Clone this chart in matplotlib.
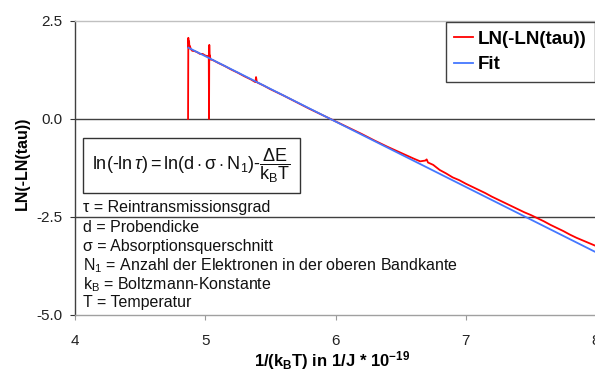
import matplotlib
matplotlib.use("Agg")
import matplotlib.pyplot as plt
from matplotlib.patches import Rectangle

plt.rcParams['font.family'] = ['Liberation Sans', 'DejaVu Sans']
plt.rcParams['mathtext.fontset'] = 'custom'
plt.rcParams['mathtext.rm'] = 'Liberation Sans'
plt.rcParams['mathtext.it'] = 'Liberation Sans:italic'
plt.rcParams['mathtext.bf'] = 'Liberation Sans:bold'

# ---- data ----
red_x = [4.868, 4.870, 4.873, 4.876, 4.879, 4.882, 4.89, 4.90, 4.92, 4.94, 4.96, 4.98, 5.00, 5.02,
         5.027, 5.029, 5.031, 5.033, 5.036, 5.04, 5.06, 5.10, 5.15, 5.20, 5.25, 5.30, 5.35,
         5.385, 5.39, 5.395, 5.40, 5.45, 5.50, 5.60, 5.70, 5.80, 5.90, 6.00, 6.10, 6.20, 6.30,
         6.40, 6.50, 6.60, 6.65, 6.69, 6.70, 6.71, 6.75, 6.80, 6.85, 6.90, 6.95, 7.00, 7.05,
         7.10, 7.15, 7.20, 7.25, 7.30, 7.35, 7.40, 7.45, 7.50, 7.55, 7.60, 7.65, 7.70, 7.75,
         7.80, 7.85, 7.90, 7.95, 8.00]
red_y = [0.00, 2.07, 1.82, 1.98, 1.80, 1.86, 1.78, 1.74, 1.73, 1.70, 1.66, 1.66, 1.62, 1.60,
         1.62, 0.00, 1.89, 1.55, 1.62, 1.52, 1.50, 1.43, 1.35, 1.26, 1.18, 1.09, 1.01,
         0.94, 1.07, 0.96, 0.93, 0.85, 0.76, 0.60, 0.43, 0.26, 0.10, -0.06, -0.22, -0.38, -0.55,
         -0.71, -0.86, -1.01, -1.08, -1.06, -1.03, -1.11, -1.17, -1.30, -1.39, -1.49, -1.56, -1.65, -1.73,
         -1.81, -1.89, -1.98, -2.06, -2.14, -2.22, -2.30, -2.38, -2.45, -2.53, -2.61, -2.70, -2.78, -2.86,
         -2.95, -3.03, -3.10, -3.17, -3.24]
fit_x = [4.87, 8.00]
fit_y = [1.82, -3.40]

legend_labels = ['LN(-LN(tau))', 'Fit']
xticks = [4, 5, 6, 7, 8]
yticks = [-5.0, -2.5, 0.0, 2.5]
notes = ['\u03c4 = Reintransmissionsgrad',
         'd = Probendicke',
         '\u03c3 = Absorptionsquerschnitt',
         r'N$_\mathrm{1}$ = Anzahl der Elektronen in der oberen Bandkante',
         r'k$_\mathrm{B}$ = Boltzmann-Konstante',
         'T = Temperatur']

W, H = 595, 369
fig = plt.figure(figsize=(W / 100, H / 100), dpi=100)
ax = fig.add_axes([75 / W, (H - 315) / H, (596 - 75) / W, (315 - 21) / H])

ax.plot(red_x, red_y, color='#ff0000', lw=1.3, label=legend_labels[0], zorder=3)
ax.plot(fit_x, fit_y, color='#4477ff', lw=1.3, label=legend_labels[1], zorder=4)

ax.set_xlim(4, 8)
ax.set_ylim(-5, 2.5)
ax.set_xticks(xticks)
ax.set_yticks(yticks)
ax.set_yticklabels([f'{v:.1f}' for v in yticks])
ax.tick_params(axis='y', direction='out', length=3.6, pad=5.5, labelsize=11, colors='#333333', labelcolor='#222222')
ax.tick_params(axis='x', direction='out', length=3.6, pad=10, labelsize=11, colors='#999999', labelcolor='#222222')

for y in [0.0, -2.5]:
    ax.axhline(y, color='#404040', lw=1.0, zorder=2)
ax.spines['top'].set_color('#c0c0c0')
ax.spines['bottom'].set_color('#a0a0a0')
ax.spines['left'].set_color('#404040')
ax.spines['right'].set_visible(False)
for s in ['top', 'bottom', 'left']:
    ax.spines[s].set_linewidth(1.0)

ax.set_ylabel('LN(-LN(tau))', fontsize=11.5, fontweight='bold')
ax.yaxis.set_label_coords((30 - 75) / 521, (315 - 163.5) / 294)
ax.set_xlabel(r'1/(k$_\mathbf{B}$T) in 1/J * 10$^\mathbf{-19}$', fontsize=12, fontweight='bold')
ax.xaxis.set_label_coords((332 - 75) / 521, (315 - 349) / 294)

leg = ax.legend(loc='upper left', bbox_to_anchor=(446 / W, 1 - 22 / H), bbox_transform=fig.transFigure,
                prop={'weight': 'bold', 'size': 13.5}, handlelength=1.0, handletextpad=0.25,
                borderpad=0.45, borderaxespad=0, labelspacing=0.45, fancybox=False, framealpha=1)
leg.get_frame().set_edgecolor('#404040')
leg.get_frame().set_linewidth(1.0)

# formula box
fig.patches.append(Rectangle((83 / W, 1 - 193 / H), (300 - 83) / W, (193 - 138) / H,
                             transform=fig.transFigure, facecolor='white', edgecolor='#333333', lw=1.0))
fig.text(191.5 / W, 1 - 165.5 / H,
         r'$\mathrm{ln(\text{-}ln}\,\tau\mathrm{) = ln(d\cdot\sigma\cdot N_1) \text{-} }\dfrac{\mathrm{\Delta E}}{\mathrm{k_B T}}$',
         fontsize=13, ha='center', va='center', color='#111111')

ys = [208, 228, 247, 266, 285, 303]
for t, yy in zip(notes, ys):
    fig.text(83 / W, 1 - yy / H, t, fontsize=11.5, ha='left', va='center', color='#111111')

fig.savefig('out.png', dpi=100)
